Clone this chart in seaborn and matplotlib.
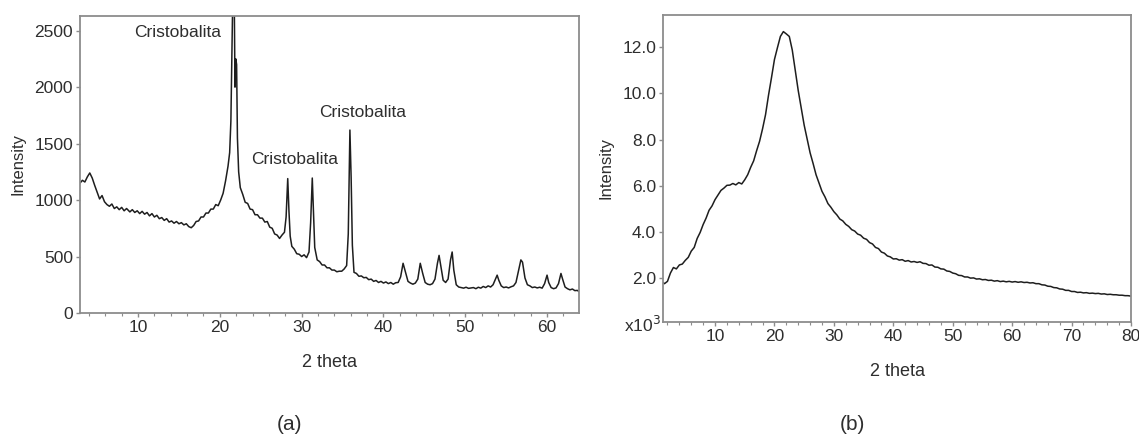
import matplotlib
matplotlib.use("Agg")
import matplotlib.pyplot as plt
from matplotlib.ticker import MultipleLocator, FormatStrFormatter
import seaborn as sns
import pandas as pd

# ---------------- data ----------------
# Panel (a): XRD pattern with cristobalite peaks
theta_a = [2.9, 3.2, 3.5, 3.8, 4.1, 4.4, 4.7, 5.0, 5.3, 5.6, 5.9, 6.2, 6.5, 6.8, 7.1, 7.4, 7.7, 8.0,
           8.3, 8.6, 9.0, 9.3, 9.6, 9.9, 10.2, 10.5, 10.8, 11.1, 11.4, 11.7, 12.0, 12.3, 12.6, 12.9,
           13.2, 13.5, 13.8, 14.1, 14.4, 14.7, 15.0, 15.3, 15.6, 15.9, 16.2, 16.5, 16.8, 17.1, 17.4,
           17.7, 18.0, 18.3, 18.6, 18.9, 19.2, 19.5, 19.8, 20.1, 20.4, 20.7, 21.0, 21.2, 21.35, 21.5,
           21.6, 21.75, 21.85, 21.95, 22.05, 22.15, 22.3, 22.5, 22.8, 23.1, 23.4, 23.7, 24.0, 24.3,
           24.6, 24.9, 25.2, 25.5, 25.8, 26.1, 26.4, 26.7, 27.0, 27.3, 27.6, 27.9, 28.1, 28.3, 28.45,
           28.6, 28.8, 29.1, 29.4, 29.7, 30.0, 30.3, 30.6, 30.9, 31.1, 31.3, 31.45, 31.6, 31.9, 32.2,
           32.5, 32.8, 33.1, 33.4, 33.7, 34.0, 34.3, 34.6, 34.9, 35.2, 35.5, 35.7, 35.9, 36.05, 36.2,
           36.4, 36.7, 37.0, 37.3, 37.6, 37.9, 38.2, 38.5, 38.8, 39.1, 39.4, 39.7, 40.0, 40.3, 40.6,
           40.9, 41.2, 41.5, 41.8, 42.1, 42.4, 42.7, 43.0, 43.3, 43.6, 43.9, 44.2, 44.5, 44.8, 45.1,
           45.4, 45.7, 46.0, 46.3, 46.6, 46.8, 47.0, 47.3, 47.6, 47.9, 48.2, 48.4, 48.6, 48.9, 49.2,
           49.5, 49.8, 50.1, 50.4, 50.7, 51.0, 51.3, 51.6, 51.9, 52.2, 52.5, 52.8, 53.1, 53.4, 53.7,
           53.9, 54.1, 54.4, 54.7, 55.0, 55.3, 55.6, 55.9, 56.2, 56.5, 56.8, 57.0, 57.3, 57.6, 57.9,
           58.2, 58.5, 58.8, 59.1, 59.4, 59.7, 60.0, 60.2, 60.5, 60.8, 61.1, 61.4, 61.7, 61.9, 62.2,
           62.5, 62.8, 63.1, 63.4, 63.7, 63.9]
intensity_a = [1150, 1175, 1160, 1205, 1240, 1195, 1130, 1070, 1010, 1040, 985, 960, 945, 965, 925,
               940, 915, 935, 905, 925, 895, 915, 890, 905, 880, 900, 875, 890, 860, 880, 850, 865,
               835, 845, 820, 835, 805, 815, 795, 810, 790, 800, 780, 790, 765, 755, 775, 810, 815,
               850, 850, 885, 885, 920, 920, 960, 950, 1000, 1060, 1170, 1300, 1420, 1700, 2400,
               2900, 2900, 2000, 2250, 2200, 1550, 1250, 1110, 1050, 980, 970, 920, 915, 870, 870,
               840, 840, 805, 810, 760, 750, 700, 690, 660, 690, 715, 850, 1190, 900, 680, 590, 565,
               525, 520, 500, 515, 490, 540, 800, 1195, 900, 580, 470, 455, 425, 425, 400, 400, 380,
               380, 365, 370, 370, 390, 420, 700, 1620, 1200, 600, 360, 350, 325, 328, 312, 315, 295,
               300, 280, 288, 270, 280, 265, 275, 260, 270, 255, 268, 270, 320, 440, 360, 280, 265,
               255, 265, 300, 440, 350, 270, 255, 250, 260, 300, 440, 510, 420, 290, 270, 300, 470,
               540, 380, 250, 230, 225, 220, 228, 218, 222, 225, 215, 228, 220, 235, 225, 240, 230,
               250, 300, 335, 290, 240, 225, 230, 222, 232, 240, 270, 370, 470, 450, 310, 250, 240,
               225, 230, 222, 228, 220, 260, 335, 270, 225, 215, 222, 260, 350, 300, 230, 215, 205,
               212, 198, 200, 190]

# Panel (b): amorphous halo (intensity in units of 10^3)
theta_b = [1.3, 1.5, 2.0, 2.5, 3.0, 3.5, 4.0, 4.5, 5.0, 5.5, 6.0, 6.5, 7.0, 7.5, 8.0, 8.5, 9.0, 9.5,
           10.0, 10.5, 11.0, 11.5, 12.0, 12.5, 13.0, 13.5, 14.0, 14.5, 15.0, 15.5, 16.0, 16.5, 17.0,
           17.5, 18.0, 18.5, 19.0, 19.5, 20.0, 20.5, 21.0, 21.5, 22.0, 22.5, 23.0, 23.5, 24.0, 24.5,
           25.0, 25.5, 26.0, 26.5, 27.0, 27.5, 28.0, 28.5, 29.0, 29.5, 30.0, 30.5, 31.0, 31.5, 32.0,
           32.5, 33.0, 33.5, 34.0, 34.5, 35.0, 35.5, 36.0, 36.5, 37.0, 37.5, 38.0, 38.5, 39.0, 39.5,
           40.0, 40.5, 41.0, 41.5, 42.0, 42.5, 43.0, 43.5, 44.0, 44.5, 45.0, 45.5, 46.0, 46.5, 47.0,
           47.5, 48.0, 48.5, 49.0, 49.5, 50.0, 50.5, 51.0, 51.5, 52.0, 52.5, 53.0, 53.5, 54.0, 54.5,
           55.0, 55.5, 56.0, 56.5, 57.0, 57.5, 58.0, 58.5, 59.0, 59.5, 60.0, 60.5, 61.0, 61.5, 62.0,
           62.5, 63.0, 63.5, 64.0, 64.5, 65.0, 65.5, 66.0, 66.5, 67.0, 67.5, 68.0, 68.5, 69.0, 69.5,
           70.0, 70.5, 71.0, 71.5, 72.0, 72.5, 73.0, 73.5, 74.0, 74.5, 75.0, 75.5, 76.0, 76.5, 77.0,
           77.5, 78.0, 78.5, 79.0, 79.5, 80.0]
intensity_b = [1.80, 1.76, 1.86, 2.22, 2.46, 2.40, 2.57, 2.61, 2.77, 2.90, 3.17, 3.33, 3.72, 3.98,
               4.32, 4.60, 4.94, 5.13, 5.40, 5.60, 5.80, 5.90, 6.02, 6.03, 6.10, 6.04, 6.14, 6.08,
               6.26, 6.48, 6.80, 7.08, 7.52, 7.93, 8.47, 9.08, 9.92, 10.68, 11.47, 11.98, 12.47,
               12.68, 12.58, 12.47, 11.88, 11.02, 10.13, 9.37, 8.63, 8.02, 7.43, 6.97, 6.48, 6.12,
               5.76, 5.52, 5.23, 5.07, 4.88, 4.74, 4.56, 4.48, 4.33, 4.24, 4.10, 4.04, 3.91, 3.86,
               3.73, 3.68, 3.54, 3.48, 3.33, 3.28, 3.13, 3.08, 2.96, 2.92, 2.83, 2.84, 2.78, 2.80,
               2.73, 2.76, 2.70, 2.72, 2.68, 2.71, 2.64, 2.63, 2.56, 2.57, 2.48, 2.47, 2.40, 2.39,
               2.31, 2.29, 2.22, 2.19, 2.12, 2.11, 2.05, 2.05, 2.00, 2.01, 1.96, 1.97, 1.93, 1.94,
               1.90, 1.91, 1.87, 1.89, 1.85, 1.87, 1.84, 1.86, 1.83, 1.85, 1.82, 1.84, 1.81, 1.82,
               1.79, 1.80, 1.76, 1.76, 1.71, 1.70, 1.65, 1.64, 1.59, 1.58, 1.53, 1.52, 1.47, 1.47,
               1.42, 1.42, 1.38, 1.39, 1.36, 1.37, 1.34, 1.35, 1.33, 1.34, 1.31, 1.32, 1.29, 1.30,
               1.28, 1.28, 1.26, 1.26, 1.24, 1.24, 1.22]

peak_label = "Cristobalita"
peak_label_pos = [(14.8, 2480), (29.1, 1360), (37.5, 1775)]
xticks_a = [10, 20, 30, 40, 50, 60]
yticks_a = [0, 500, 1000, 1500, 2000, 2500]
xticks_b = [10, 20, 30, 40, 50, 60, 70, 80]
yticks_b = [2, 4, 6, 8, 10, 12]

# ---------------- style ----------------
sns.set_theme(style="white")
plt.rcParams["font.family"] = ["Liberation Sans", "DejaVu Sans"]
TXT = "#2e2e2e"
SPINE = "#8c8c8c"
LINE = "#1e1e1e"

fig = plt.figure(figsize=(11.39, 4.37), dpi=100)
ax_a = fig.add_axes([0.0702, 0.2838, 0.4381, 0.6796])
ax_b = fig.add_axes([0.5821, 0.2632, 0.4109, 0.7025])

df_a = pd.DataFrame({"theta": theta_a, "I": intensity_a})
df_b = pd.DataFrame({"theta": theta_b, "I": intensity_b})
sns.lineplot(data=df_a, x="theta", y="I", ax=ax_a, color=LINE, linewidth=1.1, estimator=None, sort=False)
sns.lineplot(data=df_b, x="theta", y="I", ax=ax_b, color=LINE, linewidth=1.1, estimator=None, sort=False)

ax_a.set_xlim(2.9, 63.9)
ax_a.set_ylim(0, 2630)
ax_b.set_xlim(1.25, 80)
ax_b.set_ylim(0.1, 13.4)

ax_a.set_xticks(xticks_a)
ax_a.set_yticks(yticks_a)
ax_b.set_xticks(xticks_b)
ax_b.set_yticks(yticks_b)
ax_b.yaxis.set_major_formatter(FormatStrFormatter("%.1f"))
for ax in (ax_a, ax_b):
    ax.xaxis.set_minor_locator(MultipleLocator(2))
    ax.tick_params(axis="both", which="major", direction="out", length=3, width=1,
                   color=SPINE, labelsize=12.5, labelcolor=TXT, pad=2, left=True, bottom=True)
    ax.tick_params(axis="x", which="minor", direction="out", length=2, width=0.8,
                   color=SPINE, bottom=True)
    for s in ax.spines.values():
        s.set_color(SPINE)
        s.set_linewidth(1.3)
        s.set_visible(True)
    ax.set_xlabel("2 theta", fontsize=13, color=TXT, labelpad=14)
    ax.set_ylabel("Intensity", fontsize=12, color=TXT, labelpad=6)
    ax.grid(False)

for (px, py) in peak_label_pos:
    ax_a.text(px, py, peak_label, fontsize=12.5, color=TXT, ha="center", va="center")

ax_b.text(-0.005, -0.01, r"x10$^{3}$", transform=ax_b.transAxes, fontsize=12.5,
          color=TXT, ha="right", va="center")

fig.text(290 / 1139, 1 - 425 / 437, "(a)", fontsize=15, color=TXT, ha="center", va="center")
fig.text(852 / 1139, 1 - 425 / 437, "(b)", fontsize=15, color=TXT, ha="center", va="center")

fig.savefig("out.png", dpi=100, facecolor="white")
